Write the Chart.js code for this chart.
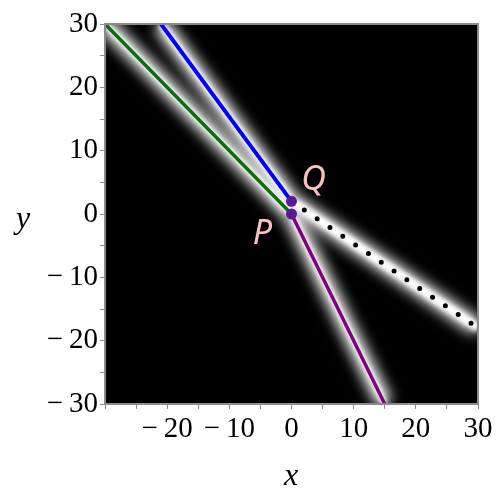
<!DOCTYPE html>
<html>
<head>
<meta charset="utf-8">
<script src="https://cdn.jsdelivr.net/npm/chart.js@4"></script>
<style>
  html, body { margin: 0; padding: 0; background: #fff; }
</style>
</head>
<body>
<canvas id="grafico" width="500" height="500"></canvas>
<script>
// datos de las rectas (extremos de cada segmento)
const azulX = [-21, 0];
const azulY = [30, 2];
const verdeX = [-30, 0];
const verdeY = [30, 0];
const moradoX = [0, 15];
const moradoY = [0, -30];
const puntosX = [0, 30];
const puntosY = [2, -18];

// puntos marcados
const nombres = ["P", "Q"];
const nombresX = [0, 0];
const nombresY = [0, 2];

// ejes
const ejeMin = -30;
const ejeMax = 30;
const pasoTicks = 5;

function aPuntos(xs, ys) {
    return xs.map((x, i) => ({ x: x, y: ys[i] }));
}

function formato(v) {
    return v < 0 ? "\u2212\u2009" + Math.abs(v) : String(v);
}

//  Fondo negro del area y marco gris
const fondo = {
    id: "fondo",
    beforeDraw(chart) {
        const { ctx, chartArea: a } = chart;
        ctx.save();
        ctx.fillStyle = "#fff";
        ctx.fillRect(0, 0, chart.width, chart.height);
        ctx.fillStyle = "#000";
        ctx.fillRect(a.left, a.top, a.right - a.left, a.bottom - a.top);
        ctx.restore();
    },
    afterDraw(chart) {
        const { ctx, chartArea: a } = chart;
        ctx.save();
        ctx.strokeStyle = "#8c8c8c";
        ctx.lineWidth = 2;
        ctx.strokeRect(a.left, a.top, a.right - a.left, a.bottom - a.top);
        // titulos de ejes
        ctx.fillStyle = "#000";
        ctx.font = "italic 32px 'Liberation Serif'";
        ctx.textAlign = "center";
        ctx.textBaseline = "alphabetic";
        ctx.fillText("y", 23, 228);
        ctx.fillText("x", 291, 485);
        ctx.restore();
    }
};

//  Resplandor blanco difuminado alrededor de las rectas
const resplandor = {
    id: "resplandor",
    beforeDatasetDraw(chart, args) {
        const ds = chart.data.datasets[args.index];
        if (ds.glow) {
            chart.ctx.save();
            chart.ctx.filter = "blur(" + ds.glow + "px)";
        }
    },
    afterDatasetDraw(chart, args) {
        if (chart.data.datasets[args.index].glow) chart.ctx.restore();
    }
};

//  Etiquetas P y Q
const etiquetas = {
    id: "etiquetas",
    afterDatasetsDraw(chart) {
        const { ctx, scales } = chart;
        const desplaz = { P: [-29, 20], Q: [22, -21] };
        ctx.save();
        ctx.fillStyle = "#ffc0c4";
        ctx.font = "italic 34px 'Noto Sans'";
        ctx.textAlign = "center";
        ctx.textBaseline = "middle";
        nombres.forEach((n, i) => {
            const px = scales.x.getPixelForValue(nombresX[i]) + desplaz[n][0];
            const py = scales.y.getPixelForValue(nombresY[i]) + desplaz[n][1];
            ctx.fillText(n, px, py);
        });
        ctx.restore();
    }
};

const linea = (xs, ys, color, ancho, extra) => Object.assign({
    type: "line",
    data: aPuntos(xs, ys),
    borderColor: color,
    borderWidth: ancho,
    pointRadius: 0,
    fill: false,
    tension: 0
}, extra || {});

const fuenteTicks = { family: "'Liberation Serif'", size: 29 };

new Chart(document.getElementById("grafico"), {
    type: "scatter",
    data: {
        datasets: [
            {
                type: "scatter",
                data: aPuntos(nombresX, nombresY),
                pointRadius: 5.5,
                pointBackgroundColor: "#5b1990",
                pointBorderWidth: 0
            },
            linea(azulX, azulY, "#0000ff", 4),
            linea(verdeX, verdeY, "#0a6e0a", 3.5),
            linea(moradoX, moradoY, "#800080", 3.5),
            linea(puntosX, puntosY, "#000", 5, { borderDash: [0, 15.5], borderCapStyle: "round" }),
            // nucleo brillante
            linea(azulX, azulY, "#fff", 7, { glow: 2 }),
            linea(verdeX, verdeY, "#fff", 6, { glow: 2 }),
            linea(moradoX, moradoY, "#fff", 6, { glow: 2 }),
            linea(puntosX, puntosY, "#fff", 9, { glow: 2 }),
            // halo difuso
            linea(azulX, azulY, "#fff", 16, { glow: 7 }),
            linea(verdeX, verdeY, "#fff", 16, { glow: 7 }),
            linea(moradoX, moradoY, "#fff", 16, { glow: 7 }),
            linea(puntosX, puntosY, "#fff", 16, { glow: 7 })
        ]
    },
    options: {
        responsive: false,
        animation: false,
        layout: { padding: { left: 0, right: 22, top: 24, bottom: 0 } },
        plugins: { legend: { display: false }, tooltip: { enabled: false } },
        scales: {
            x: {
                type: "linear",
                min: ejeMin,
                max: ejeMax,
                afterFit: s => { s.height = 96; },
                border: { display: true, color: "#8c8c8c", width: 2 },
                grid: { drawOnChartArea: false, drawTicks: true, tickLength: 5, tickColor: "#8c8c8c" },
                ticks: {
                    stepSize: pasoTicks,
                    autoSkip: false,
                    maxRotation: 0,
                    padding: 3,
                    color: "#000",
                    font: fuenteTicks,
                    callback: v => (v % 10 === 0 && v !== ejeMin) ? formato(v) : ""
                }
            },
            y: {
                type: "linear",
                min: ejeMin,
                max: ejeMax,
                afterFit: s => { s.width = 105; },
                border: { display: true, color: "#8c8c8c", width: 2 },
                grid: { drawOnChartArea: false, drawTicks: true, tickLength: 5, tickColor: "#8c8c8c" },
                ticks: {
                    stepSize: pasoTicks,
                    autoSkip: false,
                    padding: 2,
                    color: "#000",
                    font: fuenteTicks,
                    callback: v => v % 10 === 0 ? formato(v) : ""
                }
            }
        }
    },
    plugins: [fondo, resplandor, etiquetas]
});
</script>
</body>
</html>
